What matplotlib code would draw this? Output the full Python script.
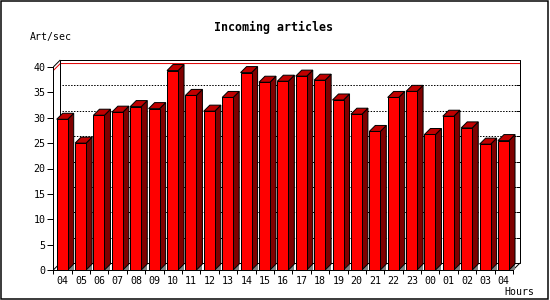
import matplotlib
matplotlib.use("Agg")
import matplotlib.pyplot as plt
from matplotlib.patches import Polygon, Rectangle
from matplotlib.lines import Line2D

# ---- data ----
hours = ["04", "05", "06", "07", "08", "09", "10", "11", "12", "13", "14", "15", "16",
         "17", "18", "19", "20", "21", "22", "23", "00", "01", "02", "03", "04"]
values = [29.7, 25.0, 30.5, 31.1, 32.2, 31.8, 39.3, 34.4, 31.3, 34.0, 38.9, 37.0, 37.2,
          38.2, 37.4, 33.5, 30.7, 27.3, 34.0, 35.2, 26.7, 30.3, 28.0, 24.8, 25.5]
y_ticks = [0, 5, 10, 15, 20, 25, 30, 35, 40]
title = "Incoming articles"
y_label = "Art/sec"
x_label = "Hours"

# ---- layout (pixels) ----
W, H = 550, 300
AX_L, AX_R, AX_TOP, AX_BOT = 53.3, 513.0, 67.0, 270.0
PX = 0.72  # points per pixel at dpi 100
FONT = "DejaVu Sans Mono"

fig = plt.figure(figsize=(W / 100, H / 100), dpi=100)
fig.patch.set_facecolor("white")
ax = fig.add_axes([AX_L / W, (H - AX_BOT) / H, (AX_R - AX_L) / W, (AX_BOT - AX_TOP) / H])
n = len(values)
ymax = y_ticks[-1]
ax.set_xlim(0, n)
ax.set_ylim(0, ymax)
ax.set_facecolor("none")

px2x = n / (AX_R - AX_L)
px2y = ymax / (AX_BOT - AX_TOP)

# wall depth
dxw, dyw = 7 * px2x, 7 * px2y
lw = 1 * PX

def line(xs, ys, **kw):
    kw.setdefault("color", "black")
    kw.setdefault("lw", lw)
    ax.add_line(Line2D(xs, ys, clip_on=False, solid_capstyle="butt", **kw))

# gridlines on back wall
for v in y_ticks[1:-1]:
    line([dxw + 2 * px2x, n + dxw], [v + dyw, v + dyw], linestyle=(0, (2 * PX, 2 * PX)), zorder=1)
    line([n + dxw - 4 * px2x, n + dxw], [v + dyw, v + dyw], zorder=1)
line([n + dxw - 4 * px2x, n + dxw], [dyw, dyw], zorder=1)

# max line (red)
m = max(values)
line([0, dxw, n + dxw], [m, m + dyw, m + dyw], color="#e00000", zorder=1.5)

# back wall frame
line([dxw, dxw, n + dxw, n + dxw], [dyw, ymax + dyw, ymax + dyw, dyw], zorder=2)
line([0, dxw], [ymax, ymax + dyw], zorder=2)
line([n, n + dxw], [0, dyw], zorder=2)
line([0, dxw], [0, dyw], zorder=2)
line([dxw, n + dxw], [dyw, dyw], zorder=2)

# bars
off, fw, d = 3.4 * px2x, 11 * px2x, 6 * px2x
dy = 6 * px2y
for i, v in enumerate(values):
    z = 3 + i * 0.01
    x0 = i + off
    x1 = x0 + fw
    ax.add_patch(Polygon([(x1, 0), (x1 + d, 0), (x1 + d, dy)], closed=True,
                         facecolor="#808080", edgecolor="none", zorder=z, clip_on=False))
    ax.add_patch(Polygon([(x1, 0), (x1 + d, dy), (x1 + d, v + dy), (x1, v)], closed=True,
                         facecolor="#800000", edgecolor="black", lw=lw, zorder=z, clip_on=False))
    ax.add_patch(Polygon([(x0, v), (x1, v), (x1 + d, v + dy), (x0 + d, v + dy)], closed=True,
                         facecolor="#c00000", edgecolor="black", lw=lw, zorder=z, clip_on=False))
    ax.add_patch(Rectangle((x0, 0), fw, v, facecolor="#ff0000", edgecolor="black",
                           lw=lw, zorder=z + 0.001, clip_on=False))

# axes spines and ticks
for s in ["top", "right"]:
    ax.spines[s].set_visible(False)
for s in ["left", "bottom"]:
    ax.spines[s].set_linewidth(lw)
    ax.spines[s].set_zorder(10)

ax.set_yticks(y_ticks)
ax.set_yticklabels([str(t) for t in y_ticks], fontfamily=FONT, fontsize=7.2)
ax.tick_params(axis="y", length=6 * PX, width=lw, pad=2 * PX, direction="out")

ax.set_xticks([i + 0.5 for i in range(n)])
ax.set_xticklabels(hours, fontfamily=FONT, fontsize=7.2)
ax.set_xticks(list(range(n + 1)), minor=True)
ax.tick_params(axis="x", which="major", length=0, pad=6 * PX)
ax.tick_params(axis="x", which="minor", length=4 * PX, width=lw, direction="out")

# texts
fig.text(273.5 / W, 1 - 27 / H, title, fontfamily=FONT, fontweight="bold", fontsize=8.4,
         ha="center", va="center")
fig.text(30 / W, 1 - 37 / H, y_label, fontfamily=FONT, fontsize=7.1, ha="left", va="center")
fig.text(504 / W, 1 - 292 / H, x_label, fontfamily=FONT, fontsize=7.1, ha="left", va="center")

# outer border
fig.patches.append(Rectangle((0.5 / W, 1.5 / H), 547 / W, 298 / H, transform=fig.transFigure,
                             fill=False, edgecolor="black", lw=1.5 * PX))

fig.savefig("out.png", dpi=100)
